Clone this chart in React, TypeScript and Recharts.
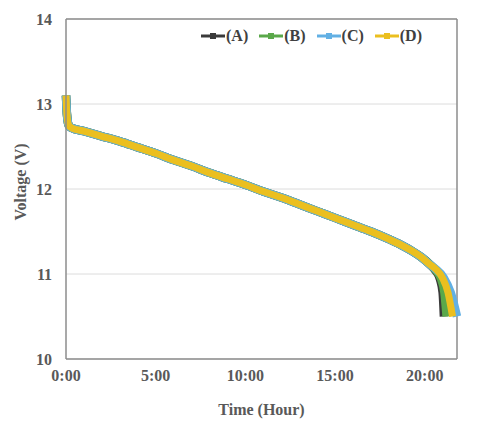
import React from 'react';
import {
    LineChart,
    Line,
    XAxis,
    YAxis,
    CartesianGrid,
    ReferenceLine,
    Label,
} from 'recharts';

// shared part of the discharge curve (hours, volts) - all four runs overlap here
const commonHours = [0, 0.03, 0.08, 0.15, 0.3, 1, 2, 3, 4, 5, 6, 7, 8, 9, 10, 11, 12, 13, 14, 15, 16, 17, 18, 18.7, 19.3, 19.8, 20.3];
const commonVolts = [13.1, 12.95, 12.82, 12.75, 12.72, 12.68, 12.62, 12.56, 12.49, 12.42, 12.34, 12.27, 12.19, 12.12, 12.05, 11.97, 11.9, 11.82, 11.74, 11.66, 11.58, 11.5, 11.41, 11.34, 11.27, 11.2, 11.11];

// end of discharge for each run
const tailHoursA = [20.6, 20.85, 21.0, 21.07];
const tailVoltsA = [11.04, 10.94, 10.78, 10.5];
const tailHoursB = [20.6, 20.9, 21.1, 21.22];
const tailVoltsB = [11.05, 10.95, 10.78, 10.5];
const tailHoursC = [20.6, 21.05, 21.45, 21.8];
const tailVoltsC = [11.06, 10.96, 10.78, 10.5];
const tailHoursD = [20.6, 21.0, 21.3, 21.55];
const tailVoltsD = [11.06, 10.95, 10.78, 10.5];

const xTicks = [0, 5, 10, 15, 20];
const yTicks = [10, 11, 12, 13, 14];

const seriesNames = ['(A)', '(B)', '(C)', '(D)'];
const seriesColors = ['#3a3a3a', '#5aa84a', '#62b0e4', '#ebbf1f'];

const build = (tailH: number[], tailV: number[]) =>
    [...commonHours, ...tailH].map((t, i) => ({
        t,
        v: i < commonHours.length ? commonVolts[i] : tailV[i - commonHours.length],
    }));

const series = [
    build(tailHoursA, tailVoltsA),
    build(tailHoursB, tailVoltsB),
    build(tailHoursC, tailVoltsC),
    build(tailHoursD, tailVoltsD),
];

const FONT = '"Liberation Serif", "Times New Roman", serif';
const AXIS = '#8c8c8c';
const textStyle = { fontFamily: FONT, fontWeight: 'bold', fontSize: 16, fill: '#595959' };

const LegendBox = () => (
    <div
        style={{
            position: 'absolute',
            left: 201,
            top: 27,
            display: 'flex',
            fontFamily: FONT,
            fontWeight: 'bold',
            fontSize: 16,
            color: '#404040',
        }}
    >
        {seriesNames.map((n, i) => (
            <div key={n} style={{ display: 'flex', alignItems: 'center', marginRight: 11 }}>
                <svg width={24} height={10}>
                    <line x1={0} y1={5} x2={24} y2={5} stroke={seriesColors[i]} strokeWidth={3} />
                    <rect x={9} y={2} width={6} height={6} fill={seriesColors[i]} />
                </svg>
                <span style={{ marginLeft: 1 }}>{n}</span>
            </div>
        ))}
    </div>
);

export default function App() {
    return (
        <div style={{ position: 'absolute', left: 0, top: 0, width: 481, height: 423, background: '#fff' }}>
            <LineChart width={481} height={423} margin={{ top: 19, right: 24, left: 0, bottom: 0 }}>
                <CartesianGrid vertical={false} stroke="#dcdcdc" />
                <XAxis
                    dataKey="t"
                    type="number"
                    domain={[0, 21.8]}
                    ticks={xTicks}
                    tickFormatter={(v) => `${v}:00`}
                    height={64}
                    tickLine={false}
                    tickMargin={5}
                    axisLine={{ stroke: AXIS, strokeWidth: 1.5 }}
                    tick={textStyle}
                    allowDuplicatedCategory={false}
                >
                    <Label value="Time (Hour)" position="insideBottom" offset={8} style={textStyle} />
                </XAxis>
                <YAxis
                    type="number"
                    domain={[10, 14]}
                    ticks={yTicks}
                    width={66}
                    tickLine={false}
                    tickMargin={8}
                    axisLine={{ stroke: AXIS, strokeWidth: 1.5 }}
                    tick={textStyle}
                >
                    <Label
                        content={() => (
                            <text
                                x={20}
                                y={182}
                                transform="rotate(-90, 20, 182)"
                                textAnchor="middle"
                                dominantBaseline="central"
                                style={textStyle}
                            >
                                Voltage (V)
                            </text>
                        )}
                    />
                </YAxis>
                <ReferenceLine y={14} stroke={AXIS} strokeWidth={1.5} />
                <ReferenceLine x={21.8} stroke={AXIS} strokeWidth={1.5} />
                {series.map((d, i) => (
                    <Line
                        key={seriesNames[i]}
                        data={d}
                        dataKey="v"
                        name={seriesNames[i]}
                        type="monotone"
                        stroke={seriesColors[i]}
                        strokeWidth={i === 3 ? 7 : 8.5}
                        strokeLinejoin="round"
                        dot={false}
                        activeDot={false}
                        isAnimationActive={false}
                    />
                ))}
            </LineChart>
            <LegendBox />
        </div>
    );
}
